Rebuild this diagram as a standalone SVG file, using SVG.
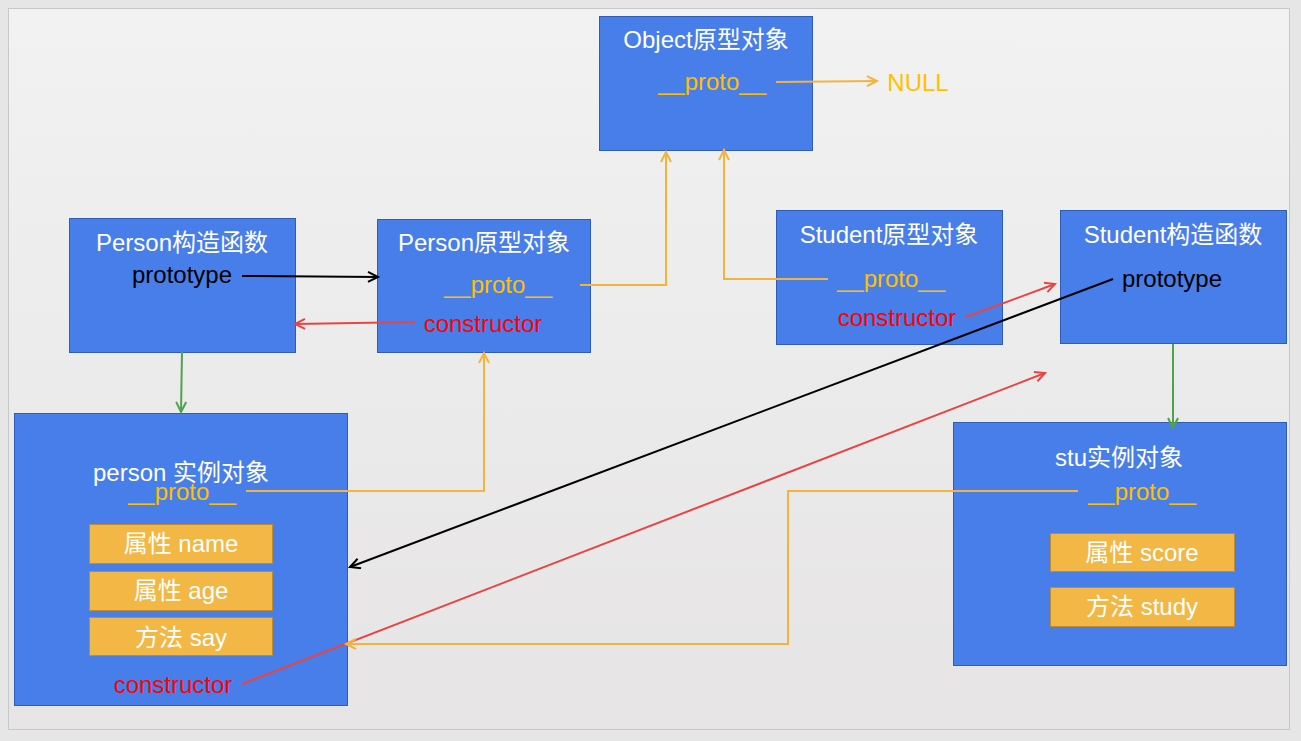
<svg xmlns="http://www.w3.org/2000/svg" width="1301" height="741" viewBox="0 0 1301 741">
<defs>
<linearGradient id="bg" x1="0" y1="0" x2="0" y2="1">
<stop offset="0" stop-color="#f2f2f2"/>
<stop offset="1" stop-color="#e6e4e4"/>
</linearGradient>
<marker id="aO" markerUnits="userSpaceOnUse" markerWidth="14" markerHeight="14" refX="11" refY="6" orient="auto"><path d="M1,1 L11,6 L1,11" fill="none" stroke="#f4b43c" stroke-width="2"/></marker>
<marker id="aR" markerUnits="userSpaceOnUse" markerWidth="14" markerHeight="14" refX="11" refY="6" orient="auto"><path d="M1,1 L11,6 L1,11" fill="none" stroke="#e84444" stroke-width="2"/></marker>
<marker id="aK" markerUnits="userSpaceOnUse" markerWidth="14" markerHeight="14" refX="11" refY="6" orient="auto"><path d="M1,1 L11,6 L1,11" fill="none" stroke="#000" stroke-width="2"/></marker>
<marker id="aG" markerUnits="userSpaceOnUse" markerWidth="14" markerHeight="14" refX="11" refY="6" orient="auto"><path d="M1,1 L11,6 L1,11" fill="none" stroke="#4ea34e" stroke-width="2"/></marker>
</defs>
<style>
text{font-family:"Liberation Sans","Noto Sans CJK SC",sans-serif;font-size:24px;text-anchor:middle}
.box{fill:#487ee9;stroke:#2f5cb4;stroke-width:1}
.sub{fill:#f2b744;stroke:#bf8a30;stroke-width:1}
.w{fill:#fff}
.y{fill:#ffc000}
.r{fill:#ff0000}
.k{fill:#000}
.lo{fill:none;stroke:#f4b43c;stroke-width:2;marker-end:url(#aO)}
.lr{fill:none;stroke:#e84444;stroke-width:2;marker-end:url(#aR)}
.lk{fill:none;stroke:#000;stroke-width:2;marker-end:url(#aK)}
.lg{fill:none;stroke:#4ea34e;stroke-width:2;marker-end:url(#aG)}
</style>
<rect x="0" y="0" width="1301" height="741" fill="#e6e6e6"/>
<rect x="8.5" y="8.5" width="1281" height="721" fill="url(#bg)" stroke="#c8c8c8" stroke-width="1"/>

<g id="object-proto">
<rect class="box" x="599.5" y="16.5" width="213" height="134"/>
<text class="w" x="706" y="48">Object原型对象</text>
<text class="y" x="712" y="90">__proto__</text>
</g>
<g id="null"><text class="y" x="918" y="91">NULL</text></g>

<g id="person-ctor">
<rect class="box" x="69.5" y="218.5" width="226" height="134"/>
<text class="w" x="182" y="251">Person构造函数</text>
<text class="k" x="182" y="283">prototype</text>
</g>

<g id="person-proto">
<rect class="box" x="377.5" y="219.5" width="213" height="133"/>
<text class="w" x="484" y="251">Person原型对象</text>
<text class="y" x="498" y="293">__proto__</text>
<text class="r" x="483" y="332">constructor</text>
</g>

<g id="student-proto">
<rect class="box" x="776.5" y="210.5" width="226" height="134"/>
<text class="w" x="889" y="243">Student原型对象</text>
<text class="y" x="891" y="287">__proto__</text>
<text class="r" x="897" y="326">constructor</text>
</g>

<g id="student-ctor">
<rect class="box" x="1060.5" y="210.5" width="226" height="133"/>
<text class="w" x="1173" y="243">Student构造函数</text>
<text class="k" x="1172" y="287">prototype</text>
</g>

<g id="person-instance">
<rect class="box" x="14.5" y="413.5" width="333" height="292"/>
<text class="w" x="181" y="481">person 实例对象</text>
<text class="y" x="182" y="500">__proto__</text>
<rect class="sub" x="89.5" y="524.5" width="183" height="39"/>
<text class="w" x="181" y="552">属性 name</text>
<rect class="sub" x="89.5" y="571.5" width="183" height="39"/>
<text class="w" x="181" y="599">属性 age</text>
<rect class="sub" x="89.5" y="617.5" width="183" height="38"/>
<text class="w" x="181" y="646">方法 say</text>
<text class="r" x="173" y="693">constructor</text>
</g>

<g id="stu-instance">
<rect class="box" x="953.5" y="422.5" width="333" height="243"/>
<text class="w" x="1119" y="466">stu实例对象</text>
<text class="y" x="1142" y="500">__proto__</text>
<rect class="sub" x="1050.5" y="533.5" width="184" height="38"/>
<text class="w" x="1142" y="561">属性 score</text>
<rect class="sub" x="1050.5" y="587.5" width="184" height="39"/>
<text class="w" x="1142" y="615">方法 study</text>
</g>

<g id="connectors">
<path class="lo" d="M776,82 L877,81"/>
<path class="lk" d="M242,276 L378,277"/>
<path class="lr" d="M415,322 L295,324"/>
<path class="lo" d="M580,285 L666,285 L666,152"/>
<path class="lo" d="M828,279 L724,279 L724,150"/>
<path class="lr" d="M966,317 L1055,284"/>
<path class="lk" d="M1113,279 L350,567"/>
<path class="lr" d="M242,684 L1045,373"/>
<path class="lo" d="M246,491 L484,491 L484,353"/>
<path class="lo" d="M1078,491 L788,491 L788,644 L346,644"/>
<path class="lg" d="M182,352 L181,412"/>
<path class="lg" d="M1173,344 L1173,428"/>
</g>
</svg>
